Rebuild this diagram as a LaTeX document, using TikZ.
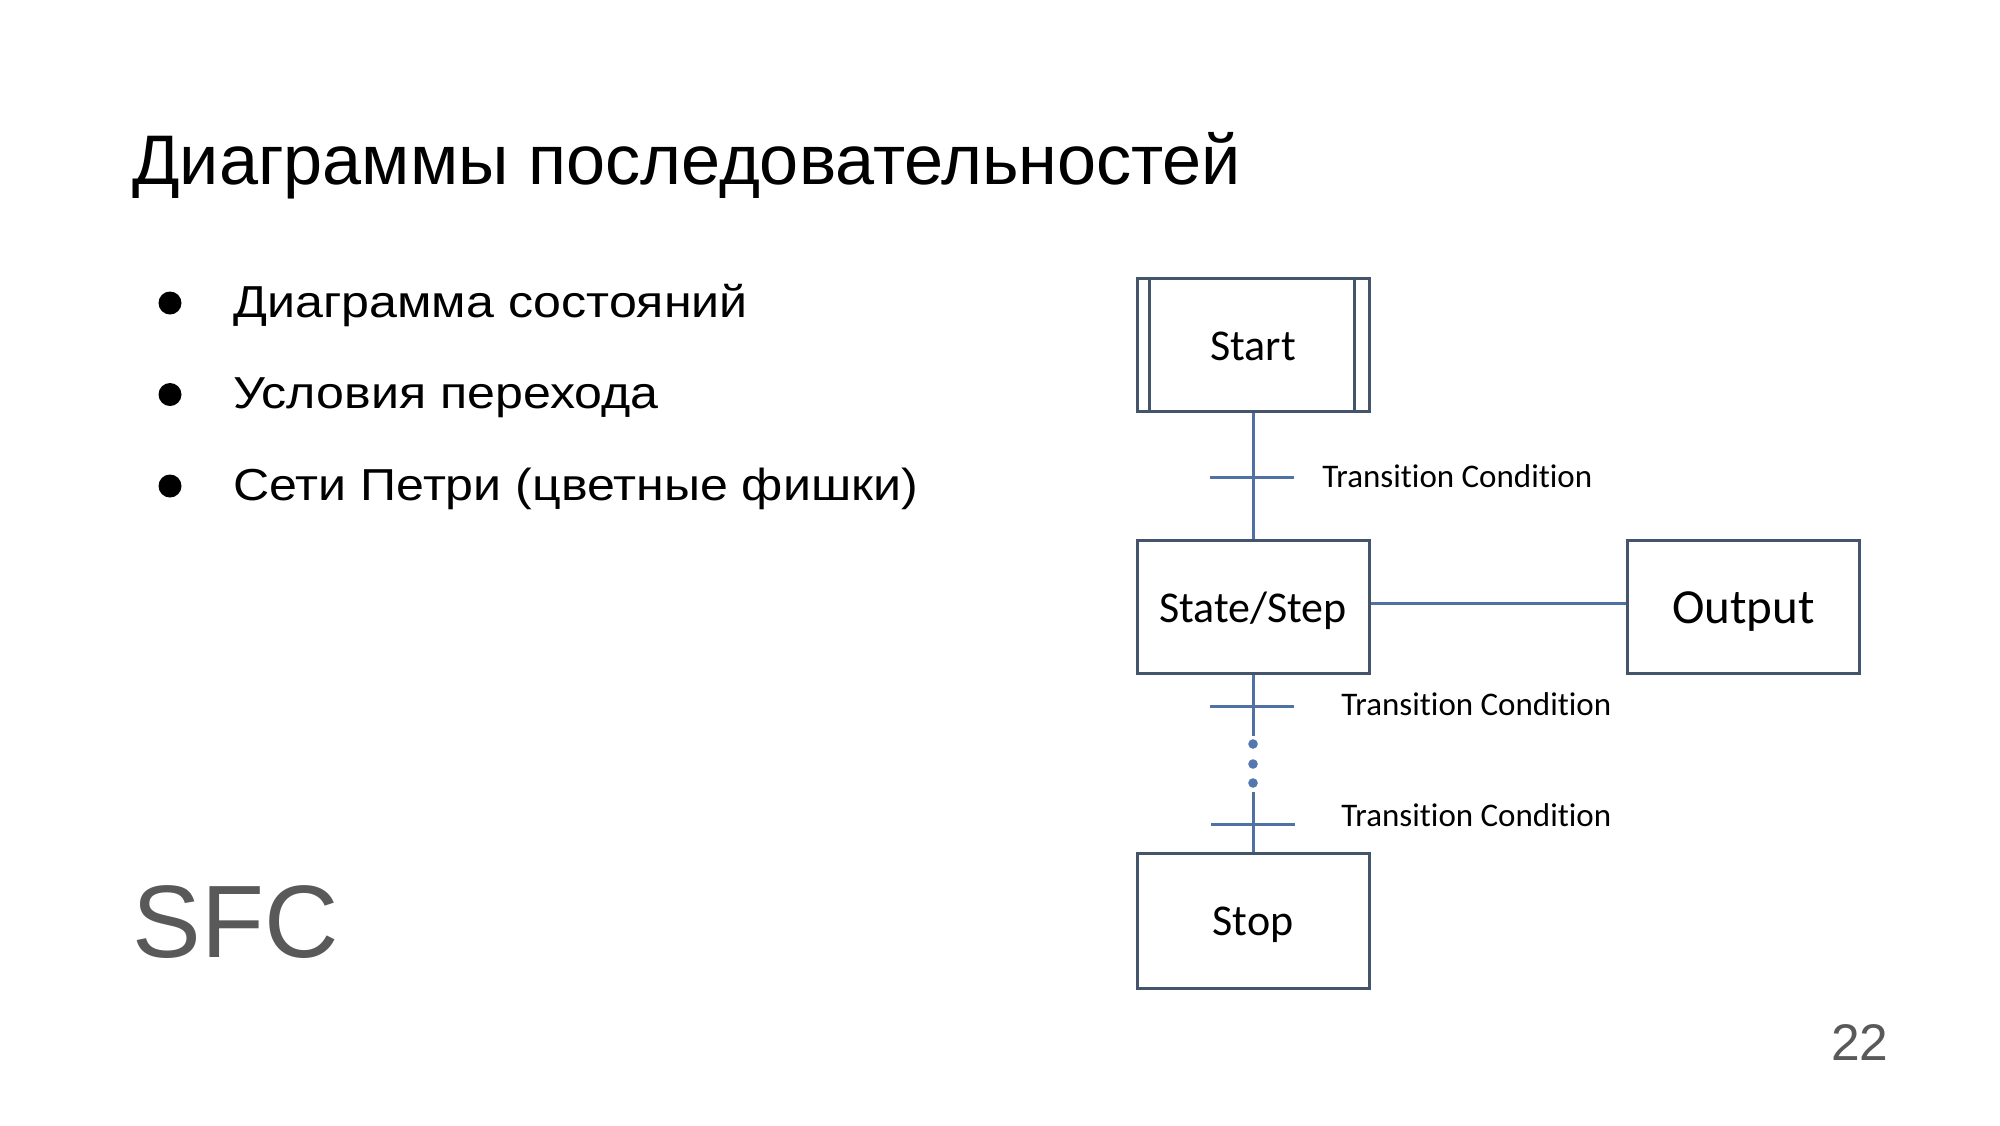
\documentclass[tikz,border=0pt]{standalone}
\usepackage{fontspec}
\setmainfont{Liberation Sans}
\newfontfamily\widesans[FakeStretch=1.119]{Liberation Sans}
\newfontfamily\calibri[Ligatures=NoCommon]{Carlito}
\usetikzlibrary{calc}

\definecolor{boxc}{HTML}{44546A}
\definecolor{linec}{HTML}{4F71A3}
\definecolor{dotc}{HTML}{5577B0}
\definecolor{greytxt}{HTML}{595959}

\tikzset{
  sfcbox/.style={draw=boxc, line width=1.5pt, minimum width=116pt,
    minimum height=66.5pt, inner sep=0pt, text height=15.5pt, text depth=0pt,
    font=\calibri\fontsize{22}{26}\selectfont},
  link/.style={draw=linec, line width=1.5pt},
  tcond/.style={anchor=base west, inner sep=0pt,
    font=\calibri\fontsize{16.5}{19}\selectfont},
  bullettext/.style={anchor=base west, inner sep=0pt,
    font=\widesans\fontsize{22.4}{27}\selectfont},
}

\begin{document}
\begin{tikzpicture}[x=0.5pt, y=-0.5pt]
  \useasboundingbox (0,0) rectangle (2000,1125);
  \fill[white] (0,0) rectangle (2000,1125);

  % slide title
  \node[anchor=base west, inner sep=0pt, font=\fontsize{35.1}{42}\selectfont]
    (title) at (132,184) {Диаграммы последовательностей};

  % bullet list
  \node[bullettext] (b1) at (233,317) {Диаграмма состояний};
  \node[bullettext] (b2) at (233,408.5) {Условия перехода};
  \node[bullettext] (b3) at (233,500) {Сети Петри (цветные фишки)};
  \foreach \y in {317,408.5,500}
    \fill (170,\y-14) circle (5.75pt);

  % footer texts
  \node[anchor=base west, inner sep=0pt, text=greytxt,
    font=\fontsize{51.5}{60}\selectfont] (sfc) at (132,957) {SFC};
  \node[anchor=base east, inner sep=0pt, text=greytxt,
    font=\fontsize{25.75}{30}\selectfont] (pnum) at (1889,1060) {22};

  % chart steps
  \node[sfcbox] (start) at (1253,344.5) {Start};
  \node[sfcbox] (state) at (1253,606.5) {State/Step};
  \node[sfcbox, text height=16.5pt, font=\calibri\fontsize{24.5}{29}\selectfont]
    (output) at (1743.5,606.5) {Output};
  \node[sfcbox, minimum height=67.5pt, text height=14.5pt] (stop) at (1253,920.5) {Stop};

  % initial step: inner vertical bars
  \draw[boxc, line width=1.5pt]
    ([xshift=7pt]start.north west) -- ([xshift=7pt]start.south west)
    ([xshift=-8pt]start.north east) -- ([xshift=-8pt]start.south east);

  % connectors
  \coordinate (gapA) at (1253,736);
  \coordinate (gapB) at (1253,792);
  \draw[link] (start.south) -- (state.north);
  \draw[link] (state.south) -- (gapA);
  \draw[link] (gapB) -- (stop.north);
  \draw[link] ([yshift=1.75pt]state.east) -- ([yshift=1.75pt]output.west);

  % transition bars
  \coordinate (t1) at (1252,477);
  \coordinate (t2) at (1252,706);
  \coordinate (t3) at (1253,824);
  \foreach \t in {t1,t2,t3}
    \draw[link] ([xshift=-21pt]\t) -- ([xshift=21pt]\t);

  % continuation dots
  \foreach \y in {744,764,783}
    \fill[dotc] (1253,\y) circle (2.4pt);

  % transition labels
  \node[tcond] (c1) at (1322,487) {Transition Condition};
  \node[tcond] (c2) at (1341,715) {Transition Condition};
  \node[tcond] (c3) at (1341,826) {Transition Condition};
\end{tikzpicture}
\end{document}
